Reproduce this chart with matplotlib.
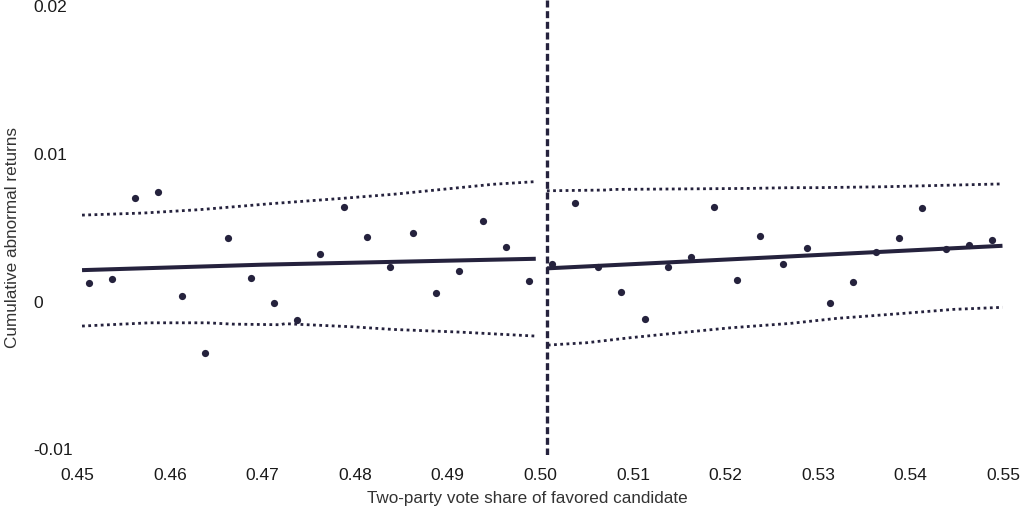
import matplotlib
matplotlib.use("Agg")
import matplotlib.pyplot as plt
import numpy as np

# ---- data ----
left_bins = [0.45125, 0.45375, 0.45625, 0.45875, 0.46125, 0.46375, 0.46625, 0.46875, 0.47125, 0.47375,
             0.47625, 0.47875, 0.48125, 0.48375, 0.48625, 0.48875, 0.49125, 0.49375, 0.49625, 0.49875]
left_means = [0.00123, 0.00153, 0.00704, 0.00742, 0.00039, -0.00347, 0.00428, 0.00159, -0.00007, -0.00128,
              0.00324, 0.00641, 0.00437, 0.00234, 0.00464, 0.00058, 0.00207, 0.00548, 0.00372, 0.00141]
right_bins = [0.50125, 0.50375, 0.50625, 0.50875, 0.51125, 0.51375, 0.51625, 0.51875, 0.52125, 0.52375,
              0.52625, 0.52875, 0.53125, 0.53375, 0.53625, 0.53875, 0.54125, 0.54375, 0.54625, 0.54875]
right_means = [0.00252, 0.00668, 0.00236, 0.00067, -0.00119, 0.00234, 0.00300, 0.00641, 0.00144, 0.00446,
               0.00252, 0.00365, -0.00008, 0.00132, 0.00336, 0.00428, 0.00632, 0.00354, 0.00383, 0.00419]

left_fit_x = [0.4505, 0.4700, 0.4995]
left_fit_y = [0.00213, 0.00250, 0.00290]
right_fit_x = [0.5007, 0.5250, 0.5499]
right_fit_y = [0.00225, 0.00300, 0.00378]

left_upper_x = [0.4505, 0.4571, 0.4632, 0.4708, 0.4787, 0.4841, 0.4895, 0.4949, 0.4995]
left_upper_y = [0.00586, 0.00600, 0.00623, 0.00663, 0.00700, 0.00727, 0.00761, 0.00795, 0.00813]
left_lower_x = [0.4505, 0.4578, 0.4640, 0.4668, 0.4719, 0.4724, 0.4797, 0.4841, 0.4913, 0.4995]
left_lower_y = [-0.00166, -0.00144, -0.00144, -0.00153, -0.00157, -0.00150, -0.00171, -0.00189, -0.00207, -0.00234]
right_upper_x = [0.5007, 0.5072, 0.5078, 0.5226, 0.5270, 0.5298, 0.5370, 0.5496, 0.5547]
right_upper_y = [0.00751, 0.00756, 0.00760, 0.00767, 0.00772, 0.00772, 0.00778, 0.00797, 0.00799]
right_lower_x = [0.5008, 0.5050, 0.5097, 0.5151, 0.5205, 0.5270, 0.5320, 0.5392, 0.5446, 0.5499]
right_lower_y = [-0.00295, -0.00279, -0.00245, -0.00211, -0.00178, -0.00148, -0.00114, -0.00080, -0.00053, -0.00039]

cutoff_x = 0.5007

x_ticks = [0.45, 0.46, 0.47, 0.48, 0.49, 0.50, 0.51, 0.52, 0.53, 0.54, 0.55]
x_tick_labels = ["0.45", "0.46", "0.47", "0.48", "0.49", "0.50", "0.51", "0.52", "0.53", "0.54", "0.55"]
y_ticks = [-0.01, 0.0, 0.01, 0.02]
y_tick_labels = ["-0.01", "0", "0.01", "0.02"]

x_label = "Two-party vote share of favored candidate"
y_label = "Cumulative abnormal returns"

# ---- style ----
ink = "#25223d"
plt.rcParams['font.family'] = ['Liberation Sans', 'DejaVu Sans']

W, H = 1024, 512
fig = plt.figure(figsize=(W / 100, H / 100), dpi=100)
ax_left, ax_right = 77.4 / W, 1003.4 / W
ax_top_px, ax_bot_px = 0, 455
ax = fig.add_axes([ax_left, 1 - ax_bot_px / H, ax_right - ax_left, (ax_bot_px - ax_top_px) / H])

ax.set_xlim(0.45, 0.55)
ax.set_ylim(-0.0104, 0.02044)

dot_style = dict(linestyle=(0, (1.0, 1.25)), linewidth=2.0, color=ink, dash_capstyle='butt')
ax.plot(left_upper_x, left_upper_y, **dot_style)
ax.plot(left_lower_x, left_lower_y, **dot_style)
ax.plot(right_upper_x, right_upper_y, **dot_style)
ax.plot(right_lower_x, right_lower_y, **dot_style)

ax.plot(left_fit_x, left_fit_y, color=ink, linewidth=2.9, solid_capstyle='butt')
ax.plot(right_fit_x, right_fit_y, color=ink, linewidth=2.9, solid_capstyle='butt')

ax.scatter(left_bins, left_means, s=27, color=ink, zorder=3, linewidths=0)
ax.scatter(right_bins, right_means, s=27, color=ink, zorder=3, linewidths=0)

ax.axvline(cutoff_x, color=ink, linewidth=2.4, linestyle=(0, (2.1, 1.1)), dash_capstyle='butt')

for s in ax.spines.values():
    s.set_visible(False)

ax.set_xticks(x_ticks)
ax.set_xticklabels(x_tick_labels, fontsize=12.5, color="#1a1a1a")
ax.set_yticks(y_ticks)
ax.set_yticklabels(y_tick_labels, fontsize=12.5, color="#1a1a1a", ha='left')
ax.tick_params(axis='x', length=0, pad=9)
ax.tick_params(axis='y', length=0, pad=32)

fig.text(527 / W, 1 - 498 / H, x_label, fontsize=12.3, color="#333333", ha='center', va='center')
fig.text(13 / W, 1 - 238 / H, y_label, fontsize=12.3, color="#333333", ha='center', va='center',
         rotation=90)

fig.savefig("out.png", dpi=100)
